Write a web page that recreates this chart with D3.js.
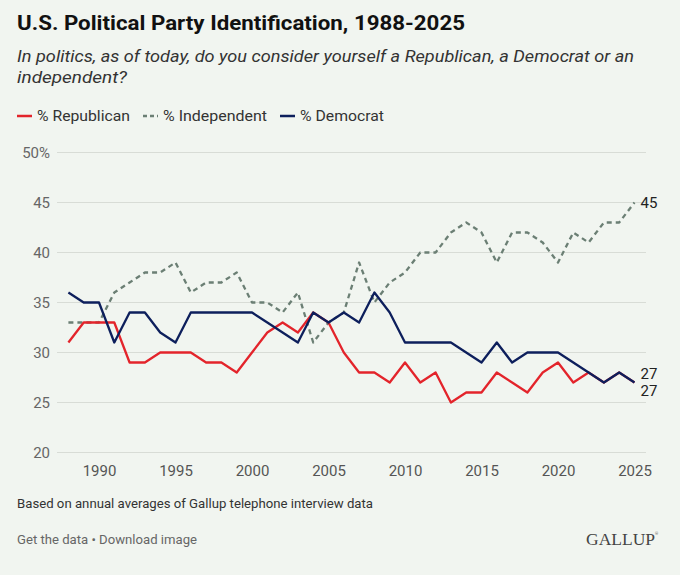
<!DOCTYPE html>
<html>
<head>
<meta charset="utf-8">
<script src="https://cdn.jsdelivr.net/npm/d3@7"></script>
<style>
  html, body { margin: 0; padding: 0; background: #f1f5f0; }
  svg { display: block; }
</style>
</head>
<body>
<svg id="chart" width="680" height="575" font-family="Roboto, 'Liberation Sans', sans-serif"></svg>
<script>
const years = d3.range(1988, 2026);
const republican = [31,33,33,33,29,29,30,30,30,29,29,28,30,32,33,32,34,33,30,28,28,27,29,27,28,25,26,26,28,27,26,28,29,27,28,27,28,27];
const independent = [33,33,33,36,37,38,38,39,36,37,37,38,35,35,34,36,31,33,34,39,35,37,38,40,40,42,43,42,39,42,42,41,39,42,41,43,43,45];
const democrat = [36,35,35,31,34,34,32,31,34,34,34,34,34,33,32,31,34,33,34,33,36,34,31,31,31,31,30,29,31,29,30,30,30,29,28,27,28,27];
const yTicks = [20,25,30,35,40,45,50];
const xTicks = [1990,1995,2000,2005,2010,2015,2020,2025];

const seriesDefs = [
  {name: "% Republican", values: republican, color: "#e3242b", dash: null},
  {name: "% Independent", values: independent, color: "#6b7f74", dash: "5,4"},
  {name: "% Democrat", values: democrat, color: "#0d1f5c", dash: null}
];

const svg = d3.select("#chart");
svg.append("rect").attr("width", 680).attr("height", 575).attr("fill", "#f1f5f0");

function fitText(sel, w) {
  const n = sel.node();
  const len = n.getComputedTextLength();
  if (len > 0) sel.attr("textLength", w).attr("lengthAdjust", "spacingAndGlyphs");
  return sel;
}

// Title & subtitle
fitText(svg.append("text").attr("x", 17).attr("y", 30)
  .attr("font-size", 21).attr("font-weight", 700).attr("fill", "#111")
  .text("U.S. Political Party Identification, 1988-2025"), 448);
fitText(svg.append("text").attr("x", 17).attr("y", 62)
  .attr("font-size", 16.5).attr("font-style", "italic").attr("fill", "#333")
  .text("In politics, as of today, do you consider yourself a Republican, a Democrat or an"), 617);
fitText(svg.append("text").attr("x", 17).attr("y", 83)
  .attr("font-size", 16.5).attr("font-style", "italic").attr("fill", "#333")
  .text("independent?"), 110);

// Legend
const legendX = [17, 143, 280];
const legendW = [93, 104, 84];
seriesDefs.forEach((s, i) => {
  const g = svg.append("g").attr("transform", `translate(${legendX[i]},116)`);
  g.append("line").attr("x1", 0).attr("x2", 15).attr("y1", 0).attr("y2", 0)
    .attr("stroke", s.color).attr("stroke-width", 2.5)
    .attr("stroke-dasharray", s.dash ? "4,3" : null);
  fitText(g.append("text").attr("x", 20).attr("y", 5).attr("font-size", 14.5)
    .attr("fill", "#333").text(s.name), legendW[i]);
});

// Scales
const x = d3.scaleLinear().domain([1988, 2025]).range([68.4, 634.5]);
const y = d3.scaleLinear().domain([20, 50]).range([452.5, 152.5]);

// Grid
const grid = svg.append("g");
grid.selectAll("line").data(yTicks).join("line")
  .attr("x1", 57).attr("x2", 646)
  .attr("y1", d => y(d)).attr("y2", d => y(d))
  .attr("stroke", "#d8dcd6").attr("stroke-width", 1);

// Y axis labels
const yAxis = d3.axisLeft(y).tickValues(yTicks).tickSize(0).tickPadding(0)
  .tickFormat(d => d === 50 ? "50%" : d);
const yg = svg.append("g").attr("transform", "translate(50,0)").call(yAxis);
yg.select(".domain").remove();
yg.attr("font-family", null).attr("font-size", null);
yg.selectAll("text").attr("font-size", 15).attr("fill", "#666");

// X axis labels
const xAxis = d3.axisBottom(x).tickValues(xTicks).tickSize(0).tickPadding(0)
  .tickFormat(d3.format("d"));
const xg = svg.append("g").attr("transform", "translate(0,465)").call(xAxis);
xg.select(".domain").remove();
xg.attr("font-family", null).attr("font-size", null);
xg.selectAll("text").attr("font-size", 15).attr("fill", "#555");

// Lines
const line = d3.line().x((d, i) => x(years[i])).y(d => y(d));
const drawOrder = [1, 0, 2];
drawOrder.forEach(i => {
  const s = seriesDefs[i];
  svg.append("path").datum(s.values)
    .attr("d", line).attr("fill", "none")
    .attr("stroke", s.color).attr("stroke-width", 2.3)
    .attr("stroke-linejoin", "round")
    .attr("stroke-dasharray", s.dash);
});

// End labels
const last = years.length - 1;
const endLabels = [
  {v: independent[last], dy: 0},
  {v: democrat[last], dy: -8.5},
  {v: republican[last], dy: 8.5}
];
svg.selectAll(".endlab").data(endLabels).join("text")
  .attr("class", "endlab")
  .attr("x", x(years[last]) + 6).attr("y", d => y(d.v) + d.dy)
  .attr("dy", "0.35em").attr("font-size", 15).attr("fill", "#222")
  .text(d => d.v);

// Footer
fitText(svg.append("text").attr("x", 17).attr("y", 508).attr("font-size", 13.5)
  .attr("fill", "#333").text("Based on annual averages of Gallup telephone interview data"), 356);
fitText(svg.append("text").attr("x", 17).attr("y", 544).attr("font-size", 13.5)
  .attr("fill", "#666").text("Get the data \u2022 Download image"), 180);
fitText(svg.append("text").attr("x", 586).attr("y", 545).attr("font-size", 17)
  .attr("font-family", "'Liberation Serif', 'DejaVu Serif', serif")
  .attr("fill", "#444").text("GALLUP"), 69);
svg.append("text").attr("x", 655).attr("y", 535).attr("font-size", 4)
  .attr("fill", "#666").text("\u00AE");
</script>
</body>
</html>
